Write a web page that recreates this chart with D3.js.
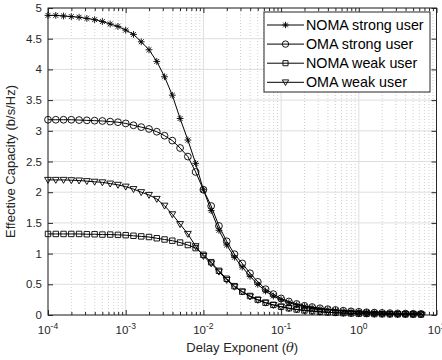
<!DOCTYPE html>
<html><head><meta charset="utf-8">
<script src="https://cdn.jsdelivr.net/npm/d3@7"></script>
<style>body{margin:0;background:#fff}svg{display:block}text{font-family:"Liberation Sans",Arial,sans-serif}</style>
</head><body>
<svg id="c" width="442" height="360"></svg>
<script>
const thetaExp = d3.range(0, 49).map(k => -4 + k / 10);
const thetas = thetaExp.map(e => Math.pow(10, e));
const nomaStrong = [4.88,4.88,4.87,4.86,4.85,4.83,4.81,4.78,4.74,4.70,4.64,4.57,4.45,4.32,4.13,3.88,3.58,3.20,2.85,2.47,2.04,1.70,1.38,1.14,0.94,0.78,0.63,0.50,0.39,0.31,0.25,0.20,0.165,0.14,0.12,0.10,0.088,0.076,0.065,0.056,0.048,0.042,0.036,0.031,0.027,0.023,0.020,0.018,0.016];
const omaStrong = [3.18,3.18,3.18,3.18,3.175,3.17,3.165,3.16,3.15,3.14,3.12,3.09,3.06,3.03,2.985,2.92,2.84,2.72,2.58,2.33,2.04,1.775,1.45,1.20,0.99,0.84,0.68,0.54,0.42,0.34,0.27,0.22,0.18,0.15,0.13,0.11,0.095,0.082,0.07,0.06,0.052,0.045,0.039,0.034,0.03,0.026,0.023,0.02,0.018];
const nomaWeak = [1.32,1.32,1.32,1.32,1.32,1.315,1.315,1.31,1.31,1.305,1.30,1.29,1.28,1.27,1.25,1.23,1.21,1.18,1.14,1.09,0.98,0.86,0.72,0.59,0.47,0.38,0.31,0.25,0.20,0.165,0.135,0.11,0.09,0.075,0.062,0.052,0.044,0.037,0.031,0.026,0.022,0.019,0.016,0.014,0.012,0.011,0.01,0.009,0.008];
const omaWeak = [2.20,2.20,2.20,2.195,2.19,2.18,2.17,2.16,2.14,2.12,2.09,2.05,2.00,1.955,1.89,1.78,1.64,1.48,1.32,1.12,0.96,0.84,0.705,0.57,0.46,0.38,0.30,0.245,0.20,0.163,0.135,0.11,0.09,0.075,0.062,0.052,0.044,0.037,0.031,0.026,0.022,0.019,0.016,0.014,0.012,0.011,0.01,0.009,0.008];
const seriesNames = ["NOMA strong user","OMA strong user","NOMA weak user","OMA weak user"];
const seriesMarkers = ["star","circle","square","tri"];
const xTickExps = [-4,-3,-2,-1,0,1];
const yTicks = [0,0.5,1,1.5,2,2.5,3,3.5,4,4.5,5];

const series = [nomaStrong, omaStrong, nomaWeak, omaWeak].map((v,i)=>({name:seriesNames[i], marker:seriesMarkers[i], values:v.map((y,k)=>({x:thetas[k], y}))}));

const L=48, R=436.5, T=8, B=315;
const x = d3.scaleLog().domain([1e-4,10]).range([L,R]);
const y = d3.scaleLinear().domain([0,5]).range([B,T]);
const svg = d3.select("#c");
const axCol = "#262626";

// grid
const minor = [];
for (let e=-4;e<1;e++) for (let m=2;m<10;m++) minor.push(m*Math.pow(10,e));
const g = svg.append("g");
g.selectAll(".mg").data(minor).join("line").attr("x1",d=>x(d)).attr("x2",d=>x(d)).attr("y1",T).attr("y2",B)
 .attr("stroke","#c4c4c4").attr("stroke-width",0.8).attr("stroke-dasharray","1,2");
g.selectAll(".vg").data(xTickExps).join("line").attr("x1",d=>x(Math.pow(10,d))).attr("x2",d=>x(Math.pow(10,d))).attr("y1",T).attr("y2",B)
 .attr("stroke","#dedede").attr("stroke-width",1);
g.selectAll(".hg").data(yTicks).join("line").attr("y1",d=>y(d)).attr("y2",d=>y(d)).attr("x1",L).attr("x2",R)
 .attr("stroke","#dedede").attr("stroke-width",1);

// axes via d3 axis (ticks inward)
const xAxisB = d3.axisBottom(x).tickValues(xTickExps.map(e=>Math.pow(10,e))).tickSize(-5).tickFormat("");
const xAxisT = d3.axisTop(x).tickValues(xTickExps.map(e=>Math.pow(10,e))).tickSize(-5).tickFormat("");
const xMinB = d3.axisBottom(x).tickValues(minor).tickSize(-3).tickFormat("");
const xMinT = d3.axisTop(x).tickValues(minor).tickSize(-3).tickFormat("");
const yAxisL = d3.axisLeft(y).tickValues(yTicks).tickSize(-5).tickFormat("");
const yAxisR = d3.axisRight(y).tickValues(yTicks).tickSize(-5).tickFormat("");
function styleAx(sel){sel.select(".domain").remove();sel.selectAll("line").attr("stroke",axCol);}
svg.append("g").attr("transform",`translate(0,${B})`).call(xAxisB).call(styleAx);
svg.append("g").attr("transform",`translate(0,${B})`).call(xMinB).call(styleAx);
svg.append("g").attr("transform",`translate(0,${T})`).call(xAxisT).call(styleAx);
svg.append("g").attr("transform",`translate(0,${T})`).call(xMinT).call(styleAx);
svg.append("g").attr("transform",`translate(${L},0)`).call(yAxisL).call(styleAx);
svg.append("g").attr("transform",`translate(${R},0)`).call(yAxisR).call(styleAx);
svg.append("rect").attr("x",L).attr("y",T).attr("width",R-L).attr("height",B-T).attr("fill","none").attr("stroke",axCol).attr("stroke-width",1);

// tick labels
svg.append("g").selectAll("text").data(yTicks).join("text").attr("x",L-6).attr("y",d=>y(d)+4).attr("text-anchor","end")
 .attr("font-size",11.5).attr("fill",axCol).text(d=>d3.format("")(d));
const xl = svg.append("g").selectAll("text").data(xTickExps).join("text").attr("x",d=>x(Math.pow(10,d))).attr("y",B+19)
 .attr("text-anchor","middle").attr("font-size",11.5).attr("fill",axCol);
xl.append("tspan").text("10");
xl.append("tspan").attr("dy",-5).attr("font-size",8.5).text(d=>String(d).replace("-","-"));

// axis titles
svg.append("text").attr("x",(L+R)/2).attr("y",352).attr("text-anchor","middle").attr("font-size",13).attr("fill",axCol)
 .call(t=>{t.append("tspan").text("Delay Exponent (");t.append("tspan").attr("font-family","'DejaVu Serif',serif").attr("font-style","italic").text("θ");t.append("tspan").text(")");});
svg.append("text").attr("transform",`translate(15,${(T+B)/2}) rotate(-90)`).attr("text-anchor","middle").attr("font-size",13).attr("fill",axCol)
 .text("Effective Capacity (b/s/Hz)");

// markers
function markerPath(type, s){
  if(type==="star"){const a=s*0.72; return `M${-s},0L${s},0M0,${-s}L0,${s}M${-a},${-a}L${a},${a}M${-a},${a}L${a},${-a}`;}
  if(type==="circle"){return `M${s},0A${s},${s} 0 1,1 ${-s},0A${s},${s} 0 1,1 ${s},0Z`;}
  if(type==="square"){const q=s*0.8; return `M${-q},${-q}H${q}V${q}H${-q}Z`;}
  if(type==="tri"){return `M${-s},${-s*0.75}H${s}L0,${s*1.0}Z`;}
}
const line = d3.line().x(d=>x(d.x)).y(d=>y(d.y));
const plot = svg.append("g");
series.forEach(s=>{
  plot.append("path").attr("d",line(s.values)).attr("fill","none").attr("stroke","#000").attr("stroke-width",1);
  plot.append("g").selectAll("path").data(s.values).join("path")
   .attr("transform",d=>`translate(${x(d.x)},${y(d.y)})`).attr("d",markerPath(s.marker,3.4))
   .attr("fill","none").attr("stroke","#000").attr("stroke-width",0.9);
});

// legend
const lg = svg.append("g");
lg.append("rect").attr("x",264).attr("y",12).attr("width",166).attr("height",80).attr("fill","#fff").attr("stroke",axCol).attr("stroke-width",1);
series.forEach((s,i)=>{
  const cy = 25 + i*19.1;
  lg.append("line").attr("x1",267).attr("x2",304).attr("y1",cy).attr("y2",cy).attr("stroke","#000").attr("stroke-width",1);
  lg.append("path").attr("transform",`translate(285.5,${cy})`).attr("d",markerPath(s.marker,3.2)).attr("fill","none").attr("stroke","#000").attr("stroke-width",0.9);
  lg.append("text").attr("x",306).attr("y",cy+5).attr("font-size",14.3).attr("fill","#000").text(s.name);
});
</script>
</body></html>
